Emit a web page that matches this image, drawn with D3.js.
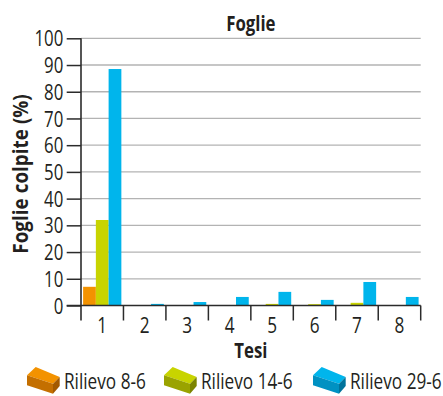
<!DOCTYPE html>
<html>
<head>
<meta charset="utf-8">
<script src="https://cdn.jsdelivr.net/npm/d3@7"></script>
<style>
  html, body { margin: 0; padding: 0; background: #fff; }
  svg { display: block; }
  text { font-family: "Open Sans", "Noto Sans", sans-serif; fill: #231f20; }
</style>
</head>
<body>
<svg id="chart" width="443" height="396"></svg>
<script>
// Percentuale di foglie colpite per tesi, ai tre rilievi
const tesi = ["1", "2", "3", "4", "5", "6", "7", "8"];
const rilievo8_6  = [7, 0, 0, 0, 0, 0, 0, 0];
const rilievo14_6 = [32, 0, 0, 0, 0.6, 0.5, 1.0, 0];
const rilievo29_6 = [88.5, 0.6, 1.3, 3.2, 5.1, 2.1, 8.8, 3.2];
const serieNomi = ["Rilievo 8-6", "Rilievo 14-6", "Rilievo 29-6"];
const yTicks = [0, 10, 20, 30, 40, 50, 60, 70, 80, 90, 100];

const colori = ["#f39200", "#c8d400", "#00b5ec"];
const coloriFronte = ["#c46f00", "#9aa300", "#0091c2"];
const coloriLato = ["#a35a00", "#7c8400", "#00739b"];

const series = [rilievo8_6, rilievo14_6, rilievo29_6];

// compressione orizzontale del carattere (aspetto "condensed")
const SX = 0.8;

const svg = d3.select("#chart");
const x0 = 81, x1 = 420.7;
const yTop = 38.3, yBot = 305.5;

const x = d3.scaleBand().domain(tesi).range([x0, x1]).paddingInner(0).paddingOuter(0);
const xs = d3.scaleBand().domain(d3.range(series.length)).range([0, x.bandwidth()]).paddingOuter(0.165).paddingInner(0);
const y = d3.scaleLinear().domain([0, 100]).range([yBot, yTop]);

function label(parent, tx, ty, txt, opts = {}) {
  const g = parent.append("g").attr("transform", `translate(${tx},${ty})${opts.rotate ? ` rotate(${opts.rotate})` : ""} scale(${opts.sx || SX},1)`);
  return g.append("text")
    .attr("text-anchor", opts.anchor || "start")
    .style("font-size", (opts.size || 21) + "px")
    .style("font-weight", opts.bold ? "bold" : "normal")
    .text(txt);
}

// griglia orizzontale
svg.append("g")
  .selectAll("line")
  .data(yTicks.filter(d => d > 0))
  .join("line")
  .attr("x1", x0).attr("x2", x1)
  .attr("y1", d => y(d)).attr("y2", d => y(d))
  .attr("stroke", "#b3b3b3").attr("stroke-width", 1.3);

// barre
const groups = svg.append("g")
  .selectAll("g")
  .data(tesi)
  .join("g")
  .attr("transform", d => `translate(${x(d)},0)`);

groups.selectAll("rect")
  .data((d, i) => series.map((s, k) => ({ k, v: s[i] })))
  .join("rect")
  .attr("x", d => xs(d.k))
  .attr("width", xs.bandwidth())
  .attr("y", d => y(d.v))
  .attr("height", d => y(0) - y(d.v))
  .attr("fill", d => colori[d.k]);

// asse Y
const yAxis = d3.axisLeft(y).tickValues(yTicks).tickSize(14.3).tickPadding(3.5).tickFormat(d3.format("d"));
const gy = svg.append("g").attr("transform", `translate(${x0},0)`).call(yAxis);
gy.select(".domain").remove();
gy.selectAll(".tick line").attr("stroke", "#2b2b2b").attr("stroke-width", 1.5);
gy.selectAll(".tick text")
  .style("font-size", "21px").attr("fill", "#231f20")
  .attr("x", -17.7 / SX).attr("dy", "0.36em")
  .attr("transform", `scale(${SX},1)`);
svg.append("line")
  .attr("x1", x0).attr("x2", x0)
  .attr("y1", yTop).attr("y2", yBot + 15)
  .attr("stroke", "#2b2b2b").attr("stroke-width", 1.6);

// asse X
const xAxis = d3.axisBottom(x).tickSize(0).tickPadding(0);
const gx = svg.append("g").attr("transform", `translate(0,${yBot})`).call(xAxis);
gx.select(".domain").remove();
gx.selectAll(".tick text")
  .style("font-size", "21.5px").attr("fill", "#231f20")
  .attr("y", 27.5).attr("dy", 0)
  .attr("transform", `scale(${SX},1)`);
svg.append("line")
  .attr("x1", x0 - 14.3).attr("x2", x1)
  .attr("y1", yBot).attr("y2", yBot)
  .attr("stroke", "#2b2b2b").attr("stroke-width", 1.6);
// separatori tra le tesi
svg.append("g")
  .selectAll("line")
  .data(tesi.slice(1).concat(["end"]))
  .join("line")
  .attr("x1", d => d === "end" ? x1 : x(d))
  .attr("x2", d => d === "end" ? x1 : x(d))
  .attr("y1", yBot).attr("y2", yBot + 15)
  .attr("stroke", "#2b2b2b").attr("stroke-width", 1.5);

// titoli
label(svg, (x0 + x1) / 2, 30.5, "Foglie", { anchor: "middle", bold: true });
label(svg, (x0 + x1) / 2, 358, "Tesi", { anchor: "middle", bold: true });
label(svg, 27.5, 174, "Foglie colpite (%)", { anchor: "middle", bold: true, rotate: -90, sx: 0.86, size: 22 });

// legenda con icone a parallelepipedo
const legendX = [27, 164, 313];
const leg = svg.append("g")
  .selectAll("g")
  .data(serieNomi)
  .join("g")
  .attr("transform", (d, i) => `translate(${legendX[i]},367)`);

// faccia superiore, frontale, laterale
leg.append("path")
  .attr("d", "M0,8.3 L8.7,0 L32.7,10 L26,16.7 Z")
  .attr("fill", (d, i) => colori[i]);
leg.append("path")
  .attr("d", "M0,8.3 L26,16.7 L26,26.7 L0,18.3 Z")
  .attr("fill", (d, i) => coloriFronte[i]);
leg.append("path")
  .attr("d", "M26,16.7 L32.7,10 L32.7,19 L26,26.7 Z")
  .attr("fill", (d, i) => coloriLato[i]);
leg.each(function (d) {
  label(d3.select(this), 37, 21.5, d, { size: 21.5 });
});
</script>
</body>
</html>
